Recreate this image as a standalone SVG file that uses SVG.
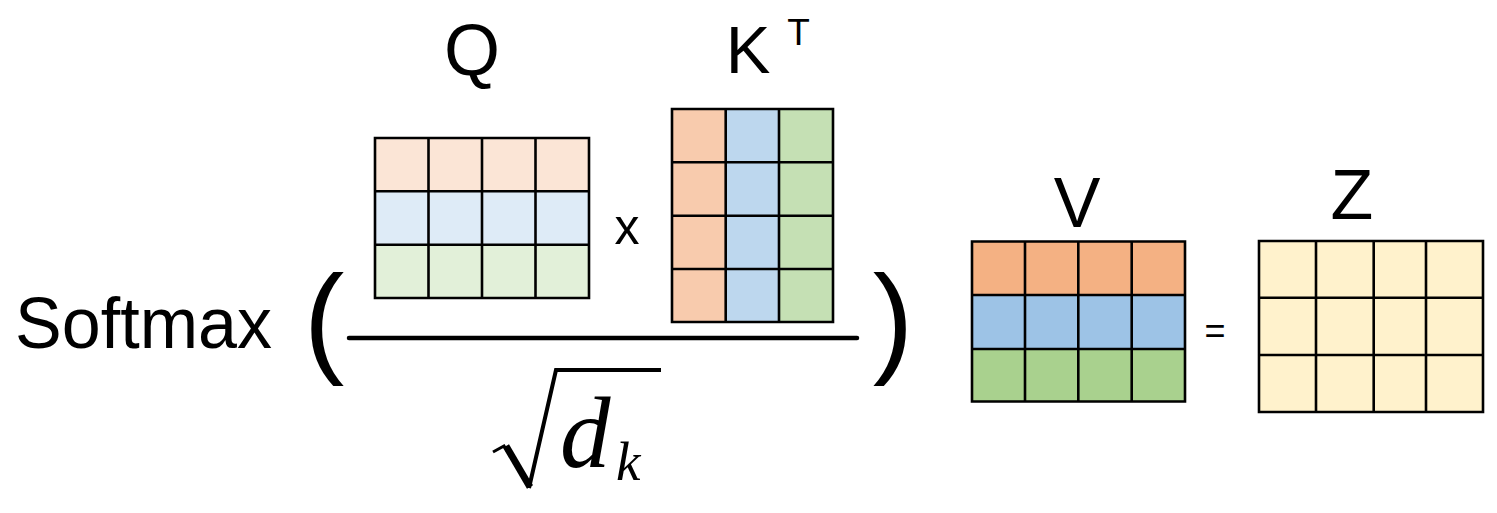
<svg xmlns="http://www.w3.org/2000/svg" width="1497" height="513" viewBox="0 0 1497 513">
<style>
.lbl{font-family:"Liberation Sans",Arial,sans-serif;fill:#000}
.math{font-family:"Liberation Serif","Times New Roman",serif;font-style:italic;fill:#000}
.grid{fill:none;stroke:#000;stroke-width:2.6}
.qo{fill:#FBE5D6}.qb{fill:#DEEBF7}.qg{fill:#E2F0D9}
.ko{fill:#F8CBAD}.kb{fill:#BDD7EE}.kg{fill:#C5E0B4}
.vo{fill:#F4B183}.vb{fill:#9DC3E6}.vg{fill:#A9D18E}
.z{fill:#FFF2CC}
</style>
<rect width="1497" height="513" fill="#fff"/>

<g id="softmax">
<text class="lbl" x="15" y="348" font-size="72" textLength="257" lengthAdjust="spacingAndGlyphs">Softmax</text>
<text class="lbl" x="324" y="361" font-size="122" text-anchor="middle">(</text>
<text class="lbl" x="893" y="361" font-size="122" text-anchor="middle">)</text>
</g>

<g id="Q">
<text class="lbl" x="472" y="75" font-size="72" text-anchor="middle">Q</text>
<rect class="qo" x="375" y="138" width="214" height="53.3"/>
<rect class="qb" x="375" y="191.3" width="214" height="53.4"/>
<rect class="qg" x="375" y="244.7" width="214" height="53.3"/>
<path class="grid" d="M375 138H589V298H375Z M428.5 138V298 M482 138V298 M535.5 138V298 M375 191.3H589 M375 244.7H589"/>
</g>

<g id="times">
<text class="lbl" x="627" y="244" font-size="50" text-anchor="middle">x</text>
</g>

<g id="KT">
<text class="lbl" x="748" y="73" font-size="67" text-anchor="middle">K</text>
<text class="lbl" x="798.5" y="45" font-size="37" text-anchor="middle">T</text>
<rect class="ko" x="672" y="109" width="53.7" height="213"/>
<rect class="kb" x="725.7" y="109" width="53.3" height="213"/>
<rect class="kg" x="779" y="109" width="54" height="213"/>
<path class="grid" d="M672 109H833V322H672Z M725.7 109V322 M779 109V322 M672 162.3H833 M672 215.7H833 M672 269H833"/>
</g>

<g id="fraction">
<line x1="349" y1="338" x2="857" y2="338" stroke="#000" stroke-width="4.5" stroke-linecap="round"/>
</g>

<g id="sqrt-dk">
<path d="M493 452L504 446L530 487" fill="none" stroke="#000" stroke-width="3"/>
<path d="M506 446L530 487" fill="none" stroke="#000" stroke-width="7"/>
<path d="M529 488L556 370H661" fill="none" stroke="#000" stroke-width="4"/>
<text class="math" x="560" y="467" font-size="101">d</text>
<text class="math" x="616" y="480" font-size="55">k</text>
</g>

<g id="V">
<text class="lbl" x="1077" y="227" font-size="70" text-anchor="middle">V</text>
<rect class="vo" x="972" y="241.5" width="213" height="53.5"/>
<rect class="vb" x="972" y="295" width="213" height="54"/>
<rect class="vg" x="972" y="349" width="213" height="52.5"/>
<path class="grid" d="M972 241.5H1185V401.5H972Z M1025 241.5V401.5 M1078.3 241.5V401.5 M1131.7 241.5V401.5 M972 295H1185 M972 349H1185"/>
</g>

<g id="equals">
<text class="lbl" x="1215" y="343" font-size="36" text-anchor="middle">=</text>
</g>

<g id="Z">
<text class="lbl" x="1352" y="219" font-size="70" text-anchor="middle">Z</text>
<rect class="z" x="1259" y="241" width="224" height="171"/>
<path class="grid" d="M1259 241H1483V412H1259Z M1316 241V412 M1373.7 241V412 M1426 241V412 M1259 297.7H1483 M1259 355H1483"/>
</g>
</svg>
